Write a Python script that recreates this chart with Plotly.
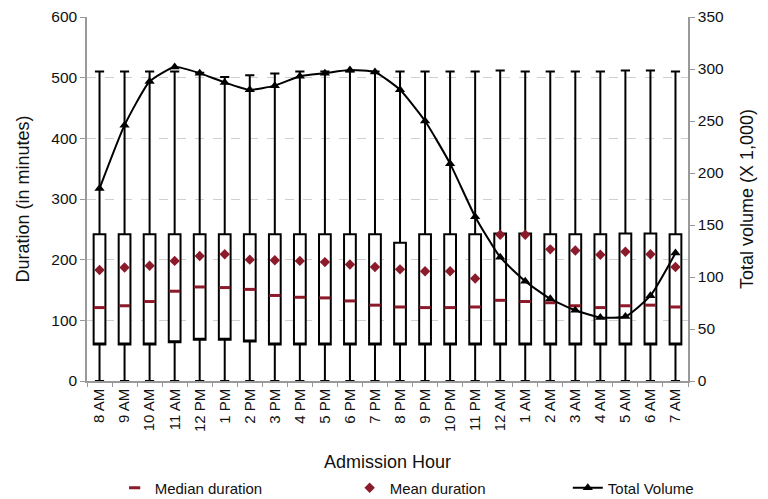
import plotly.graph_objects as go

hours = ["8 AM", "9 AM", "10 AM", "11 AM", "12 PM", "1 PM", "2 PM", "3 PM", "4 PM", "5 PM",
         "6 PM", "7 PM", "8 PM", "9 PM", "10 PM", "11 PM", "12 AM", "1 AM", "2 AM", "3 AM",
         "4 AM", "5 AM", "6 AM", "7 AM"]

q1 = [60, 60, 60, 64, 68, 68, 65, 60, 60, 60, 60, 60, 60, 60, 60, 60, 60, 60, 60, 60, 60, 60, 60, 60]
q3 = [242, 242, 242, 242, 242, 242, 242, 242, 242, 242, 242, 242, 228, 242, 242, 242, 243, 243, 242, 242, 242, 243, 243, 242]
lower = [0] * 24
upper = [510, 510, 510, 510, 508, 501, 504, 507, 510, 510, 510, 510, 510, 510, 510, 510, 512, 510, 510, 510, 510, 512, 512, 510]

median = [121, 124, 131, 148, 155, 154, 151, 141, 138, 137, 132, 125, 122, 121, 121, 122, 133, 131, 129, 124, 121, 124, 125, 122]
mean = [183, 187, 190, 198, 206, 209, 200, 199, 198, 196, 192, 188, 184, 181, 181, 169, 241, 241, 217, 215, 208, 213, 209, 188]

volume = [185, 246, 288, 302, 296, 287, 280, 284, 293, 296, 299, 297, 280, 250, 209, 158, 119, 96, 79, 68, 61, 62, 82, 123]

FONT = "Liberation Sans, Arial, sans-serif"
RED = "#8b1a2a"

fig = go.Figure()

fig.add_trace(go.Box(
    x=hours, q1=q1, median=q1, q3=q3, lowerfence=lower, upperfence=upper,
    fillcolor="white", line=dict(color="black", width=2),
    width=0.47, whiskerwidth=0.78, boxpoints=False, showlegend=False,
    hoverinfo="skip",
))

fig.add_trace(go.Scatter(
    x=hours, y=median, mode="markers", name="Median duration",
    marker=dict(symbol="line-ew", size=8, color=RED, line=dict(color=RED, width=3)),
    legend="legend",
))
fig.add_trace(go.Scatter(
    x=hours, y=mean, mode="markers", name="Mean duration",
    marker=dict(symbol="diamond", size=8, color=RED),
    legend="legend",
))
fig.add_trace(go.Scatter(
    x=hours, y=volume, mode="lines+markers", name="Total Volume", yaxis="y2",
    line=dict(color="black", width=2, shape="spline", smoothing=0.5),
    marker=dict(symbol="triangle-up", size=9, color="black"),
    legend="legend2",
))

# page body has an 8px margin, so the figure is 760x491 and offset by 8px
fig.update_layout(
    width=760, height=491,
    margin=dict(l=79, r=80, t=9, b=118, autoexpand=False),
    paper_bgcolor="white", plot_bgcolor="white",
    font=dict(family=FONT, size=15, color="#111"),
    xaxis=dict(
        type="category", range=[-0.5, 23.5], tickangle=-90,
        showline=True, linecolor="#999", linewidth=1.5,
        ticks="outside", tickson="boundaries", ticklen=4, tickcolor="#999",
        showgrid=False, tickfont=dict(size=15, color="#111"),
        title=dict(text="Admission Hour", font=dict(size=18), standoff=24),
    ),
    yaxis=dict(
        range=[0, 600], dtick=100, showline=True, linecolor="#999", linewidth=1.5,
        ticks="outside", ticklen=5, tickcolor="#999",
        showgrid=True, gridcolor="#cfcfcf", griddash="dash", gridwidth=1,
        zeroline=False, tickfont=dict(size=15.5, color="#111"),
        title=dict(text="Duration (in minutes)", font=dict(size=18), standoff=17),
    ),
    yaxis2=dict(
        range=[0, 350], dtick=50, overlaying="y", side="right",
        showline=True, linecolor="#999", linewidth=1.5,
        ticks="outside", ticklen=5, tickcolor="#999",
        showgrid=False, zeroline=False, tickfont=dict(size=15.5, color="#111"),
        title=dict(text="Total volume (X 1,000)", font=dict(size=18), standoff=17),
    ),
    legend=dict(
        orientation="h", x=0.046, xanchor="left", y=-0.294, yanchor="middle",
        entrywidth=190, entrywidthmode="pixels", font=dict(size=15),
        bgcolor="rgba(0,0,0,0)",
    ),
    legend2=dict(
        orientation="h", x=0.80, xanchor="left", y=-0.294, yanchor="middle",
        font=dict(size=15), bgcolor="rgba(0,0,0,0)",
    ),
)

fig.write_html("out.html")
